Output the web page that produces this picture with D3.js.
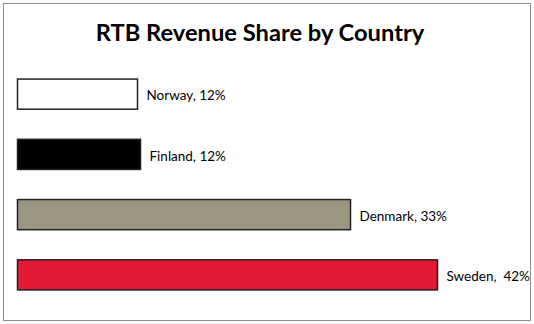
<!DOCTYPE html>
<html><head><meta charset="utf-8">
<script src="https://cdn.jsdelivr.net/npm/d3@7"></script>
<style>body{margin:0;background:#fff}</style>
</head><body>
<script>
const countries = ["Norway", "Finland", "Denmark", "Sweden"];
const values = [12, 12.3, 33.3, 42];
const labels = ["Norway, 12%", "Finland, 12%", "Denmark, 33%", "Sweden,  42%"];
const colors = ["#ffffff", "#000000", "#9a9682", "#e11a36"];
const title = "RTB Revenue Share by Country";

const W = 534, H = 324;
const svg = d3.select("body").append("svg").attr("width", W).attr("height", H);
svg.append("rect").attr("x", 3.5).attr("y", 3.5).attr("width", 527).attr("height", 317)
  .attr("fill", "#fff").attr("stroke", "#8c8c8c").attr("stroke-width", 1);

svg.append("text").attr("x", 260).attr("y", 41).attr("text-anchor", "middle")
  .attr("font-family", "Lato, 'Open Sans', sans-serif").attr("font-weight", "bold")
  .attr("font-size", 23.7).attr("fill", "#000").text(title);

const x = d3.scaleLinear().domain([0, 42]).range([17.5, 437.5]);
const y = d3.scaleBand().domain(countries).range([64, 305]).paddingInner(0.5).paddingOuter(0.25);

const g = svg.append("g");
g.selectAll("rect.bar").data(countries).join("rect").attr("class", "bar")
  .attr("x", x(0)).attr("y", d => y(d))
  .attr("width", (d, i) => x(values[i]) - x(0)).attr("height", y.bandwidth())
  .attr("fill", (d, i) => colors[i]).attr("stroke", "#222").attr("stroke-width", 1.5);

g.selectAll("text.lbl").data(countries).join("text").attr("class", "lbl")
  .attr("x", (d, i) => x(values[i]) + 9).attr("y", d => y(d) + y.bandwidth() / 2 + 1.5)
  .attr("dy", "0.35em").attr("font-family", "Lato, 'Open Sans', sans-serif")
  .attr("font-size", 13.5).attr("fill", "#000").style("white-space", "pre")
  .text((d, i) => labels[i]);
</script>
</body></html>
